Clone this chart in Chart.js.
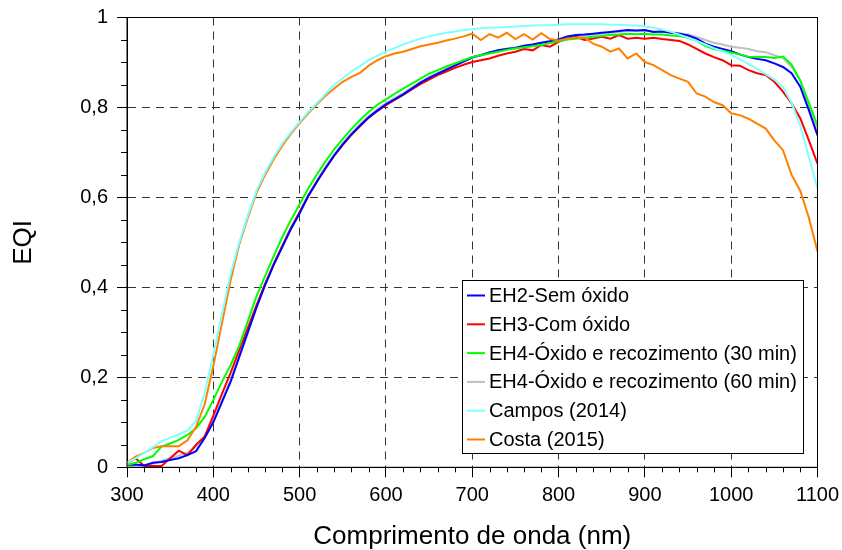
<!DOCTYPE html>
<html>
<head>
<meta charset="utf-8">
<script src="https://cdn.jsdelivr.net/npm/chart.js@4.4.0/dist/chart.umd.min.js"></script>
<style>
  body { margin: 0; background: #fff; }
</style>
</head>
<body>
<canvas id="myChart" width="842" height="550"></canvas>
<script>
// wavelength (nm)
var wavelength = [300, 310, 320, 330, 340, 350, 360, 370, 380, 390,
  400, 410, 420, 430, 440, 450, 460, 470, 480, 490,
  500, 510, 520, 530, 540, 550, 560, 570, 580, 590,
  600, 610, 620, 630, 640, 650, 660, 670, 680, 690,
  700, 710, 720, 730, 740, 750, 760, 770, 780, 790,
  800, 810, 820, 830, 840, 850, 860, 870, 880, 890,
  900, 910, 920, 930, 940, 950, 960, 970, 980, 990,
  1000, 1010, 1020, 1030, 1040, 1050, 1060, 1070, 1080, 1090,
  1100];

var eh2 = [0.005, 0.006, 0.004, 0.010, 0.012, 0.016, 0.020, 0.027, 0.036, 0.065,
  0.100, 0.145, 0.190, 0.245, 0.300, 0.355, 0.405, 0.450, 0.490, 0.530,
  0.565, 0.603, 0.635, 0.665, 0.693, 0.718, 0.740, 0.760, 0.778, 0.793,
  0.807, 0.818, 0.829, 0.842, 0.855, 0.866, 0.875, 0.884, 0.893, 0.902,
  0.911, 0.916, 0.922, 0.927, 0.930, 0.932, 0.937, 0.940, 0.944, 0.947,
  0.951, 0.958, 0.961, 0.962, 0.964, 0.966, 0.968, 0.970, 0.972, 0.971,
  0.972, 0.968, 0.969, 0.966, 0.964, 0.960, 0.953, 0.942, 0.935, 0.930,
  0.925, 0.918, 0.912, 0.908, 0.905, 0.898, 0.890, 0.876, 0.846, 0.794,
  0.738];

var eh3 = [0.009, 0.020, 0.003, 0.003, 0.003, 0.020, 0.037, 0.027, 0.050, 0.068,
  0.115, 0.163, 0.210, 0.260, 0.310, 0.360, 0.408, 0.452, 0.492, 0.532,
  0.567, 0.603, 0.635, 0.665, 0.693, 0.717, 0.739, 0.758, 0.777, 0.792,
  0.805, 0.817, 0.828, 0.840, 0.852, 0.862, 0.872, 0.880, 0.888, 0.895,
  0.901, 0.905, 0.909, 0.915, 0.920, 0.924, 0.930, 0.927, 0.939, 0.935,
  0.946, 0.953, 0.957, 0.950, 0.953, 0.957, 0.953, 0.961, 0.953, 0.955,
  0.953, 0.955, 0.952, 0.950, 0.948, 0.940, 0.930, 0.920, 0.912, 0.905,
  0.894, 0.893, 0.883, 0.876, 0.872, 0.857, 0.835, 0.809, 0.776, 0.727,
  0.675];

var eh4_30 = [0.005, 0.010, 0.018, 0.025, 0.046, 0.053, 0.061, 0.072, 0.087, 0.112,
  0.150, 0.190, 0.227, 0.270, 0.325, 0.380, 0.425, 0.470, 0.512, 0.550,
  0.585, 0.620, 0.651, 0.680, 0.707, 0.730, 0.752, 0.772, 0.790, 0.806,
  0.818, 0.830, 0.842, 0.853, 0.864, 0.875, 0.883, 0.891, 0.898, 0.905,
  0.912, 0.916, 0.920, 0.924, 0.928, 0.931, 0.934, 0.936, 0.939, 0.943,
  0.947, 0.951, 0.953, 0.955, 0.957, 0.959, 0.961, 0.962, 0.964, 0.963,
  0.964, 0.962, 0.962, 0.960, 0.959, 0.955, 0.948, 0.937, 0.930, 0.926,
  0.922, 0.918, 0.913, 0.912, 0.912, 0.910, 0.913, 0.895, 0.860, 0.810,
  0.760];

var eh4_60 = [0.003, 0.004, 0.005, 0.008, 0.014, 0.020, 0.026, 0.032, 0.046, 0.070,
  0.105, 0.150, 0.195, 0.248, 0.303, 0.358, 0.408, 0.453, 0.494, 0.534,
  0.569, 0.606, 0.638, 0.668, 0.696, 0.721, 0.743, 0.763, 0.781, 0.796,
  0.810, 0.821, 0.832, 0.845, 0.857, 0.868, 0.877, 0.886, 0.895, 0.903,
  0.912, 0.917, 0.922, 0.927, 0.931, 0.934, 0.937, 0.940, 0.944, 0.947,
  0.951, 0.955, 0.958, 0.960, 0.962, 0.964, 0.966, 0.968, 0.970, 0.970,
  0.970, 0.969, 0.968, 0.967, 0.965, 0.962, 0.957, 0.950, 0.944, 0.940,
  0.935, 0.933, 0.930, 0.925, 0.923, 0.916, 0.910, 0.890, 0.860, 0.805,
  0.750];

var campos = [0.010, 0.020, 0.032, 0.045, 0.058, 0.066, 0.073, 0.082, 0.103, 0.165,
  0.250, 0.340, 0.430, 0.500, 0.560, 0.615, 0.655, 0.690, 0.720, 0.745,
  0.768, 0.790, 0.810, 0.830, 0.850, 0.865, 0.880, 0.892, 0.905, 0.915,
  0.924, 0.932, 0.940, 0.947, 0.953, 0.958, 0.962, 0.966, 0.969, 0.972,
  0.974, 0.976, 0.977, 0.978, 0.979, 0.980, 0.981, 0.982, 0.983, 0.983,
  0.984, 0.985, 0.985, 0.985, 0.985, 0.985, 0.984, 0.984, 0.983, 0.982,
  0.980, 0.977, 0.973, 0.968, 0.962, 0.955, 0.948, 0.940, 0.932, 0.925,
  0.917, 0.907, 0.897, 0.886, 0.874, 0.862, 0.845, 0.810, 0.760, 0.690,
  0.620];

var costa = [0.010, 0.024, 0.032, 0.043, 0.047, 0.047, 0.047, 0.060, 0.090, 0.140,
  0.225, 0.320, 0.415, 0.495, 0.555, 0.610, 0.650, 0.685, 0.715, 0.742,
  0.765, 0.787, 0.807, 0.826, 0.842, 0.857, 0.868, 0.877, 0.893, 0.905,
  0.914, 0.920, 0.924, 0.930, 0.936, 0.940, 0.944, 0.949, 0.953, 0.958,
  0.964, 0.950, 0.963, 0.955, 0.966, 0.952, 0.963, 0.951, 0.965, 0.952,
  0.949, 0.953, 0.955, 0.955, 0.942, 0.935, 0.924, 0.931, 0.909, 0.920,
  0.901, 0.894, 0.883, 0.872, 0.864, 0.857, 0.831, 0.824, 0.812, 0.805,
  0.787, 0.783, 0.775, 0.764, 0.753, 0.727, 0.705, 0.650, 0.615, 0.555,
  0.480];

var seriesNames = ['EH2-Sem óxido', 'EH3-Com óxido', 'EH4-Óxido e recozimento (30 min)',
  'EH4-Óxido e recozimento (60 min)', 'Campos (2014)', 'Costa (2015)'];
var seriesValues = [eh2, eh3, eh4_30, eh4_60, campos, costa];
var seriesColors = ['#0000FF', '#FF0000', '#00FF00', '#C0C0C0', '#80FFFF', '#FF8000'];
var drawOrder = [3, 4, 2, 5, 0, 1];

var fontName = '"Liberation Sans", Arial, sans-serif';

function points(vals) {
  return vals.map(function (v, i) { return { x: wavelength[i], y: v }; });
}

// minor ticks, frame and the boxed legend
var extras = {
  id: 'extras',
  afterDatasetsDraw: function (chart) {
    var ctx = chart.ctx, a = chart.chartArea;
    var xs = chart.scales.x, ys = chart.scales.y;
    ctx.save();
    ctx.strokeStyle = '#000';
    ctx.lineWidth = 1;
    ctx.beginPath();
    for (var w = 300; w <= 1100; w += 20) {
      if (w % 100 === 0) continue;
      var px = Math.round(xs.getPixelForValue(w)) + 0.5;
      ctx.moveTo(px, a.bottom);
      ctx.lineTo(px, a.bottom + 5);
    }
    for (var k = 1; k < 20; k++) {
      if (k % 4 === 0) continue;
      var py = Math.round(ys.getPixelForValue(k * 0.05)) + 0.5;
      ctx.moveTo(a.left - 6, py);
      ctx.lineTo(a.left, py);
    }
    ctx.stroke();

    ctx.strokeRect(a.left, a.top, a.right - a.left, a.bottom - a.top);

    // legend box
    var lx = 462, ly = 280, lw = 341, lh = 173;
    ctx.fillStyle = '#fff';
    ctx.fillRect(lx, ly, lw, lh);
    ctx.strokeStyle = '#000';
    ctx.strokeRect(lx + 0.5, ly + 0.5, lw, lh);
    ctx.font = '20px ' + fontName;
    ctx.textBaseline = 'middle';
    chart.data.datasets.forEach(function (ds, i) {
      var y = ly + 15.5 + i * 28.8;
      ctx.strokeStyle = ds.borderColor;
      ctx.lineWidth = 2;
      ctx.beginPath();
      ctx.moveTo(lx + 5, y);
      ctx.lineTo(lx + 23, y);
      ctx.stroke();
      ctx.fillStyle = '#000';
      ctx.fillText(ds.label, lx + 27, y + 1);
    });
    ctx.restore();
  }
};

var ctx = document.getElementById('myChart').getContext('2d');
var chart = new Chart(ctx, {
  type: 'line',
  data: {
    datasets: seriesValues.map(function (vals, i) {
      return {
        label: seriesNames[i],
        data: points(vals),
        borderColor: seriesColors[i],
        backgroundColor: seriesColors[i],
        borderWidth: 2,
        pointRadius: 0,
        tension: 0,
        fill: false,
        order: drawOrder[i]
      };
    })
  },
  options: {
    responsive: false,
    animation: false,
    layout: { padding: { top: 17.5, right: 24.5, left: 0, bottom: 0 } },
    plugins: {
      legend: { display: false },
      tooltip: { enabled: false }
    },
    scales: {
      x: {
        type: 'linear',
        min: 300,
        max: 1100,
        afterFit: function (s) {
          s.height = 82.7;
          s.paddingLeft = 0;
          s.paddingRight = 0;
        },
        ticks: {
          stepSize: 100,
          padding: 6,
          color: '#000',
          font: { family: fontName, size: 20 },
          callback: function (v) { return String(v); }
        },
        grid: { color: '#333', tickColor: '#000', tickLength: 10 },
        border: { color: '#000', dash: [8, 6] },
        title: {
          display: true,
          text: 'Comprimento de onda (nm)',
          color: '#000',
          padding: 0,
          font: { family: fontName, size: 26, lineHeight: 1 }
        }
      },
      y: {
        min: 0,
        max: 1,
        afterFit: function (s) {
          s.width = 127;
          s.paddingTop = 0;
          s.paddingBottom = 0;
        },
        ticks: {
          stepSize: 0.2,
          padding: 9,
          color: '#000',
          font: { family: fontName, size: 20 },
          callback: function (v) {
            if (v === 0 || v === 1) return String(v);
            return v.toFixed(1).replace('.', ',');
          }
        },
        grid: { color: '#333', tickColor: '#000', tickLength: 10 },
        border: { color: '#000', dash: [8, 6] },
        title: {
          display: true,
          text: 'EQI',
          color: '#000',
          padding: { top: 11, bottom: 0 },
          font: { family: fontName, size: 26, lineHeight: 1 }
        }
      }
    }
  },
  plugins: [extras]
});
</script>
</body>
</html>
